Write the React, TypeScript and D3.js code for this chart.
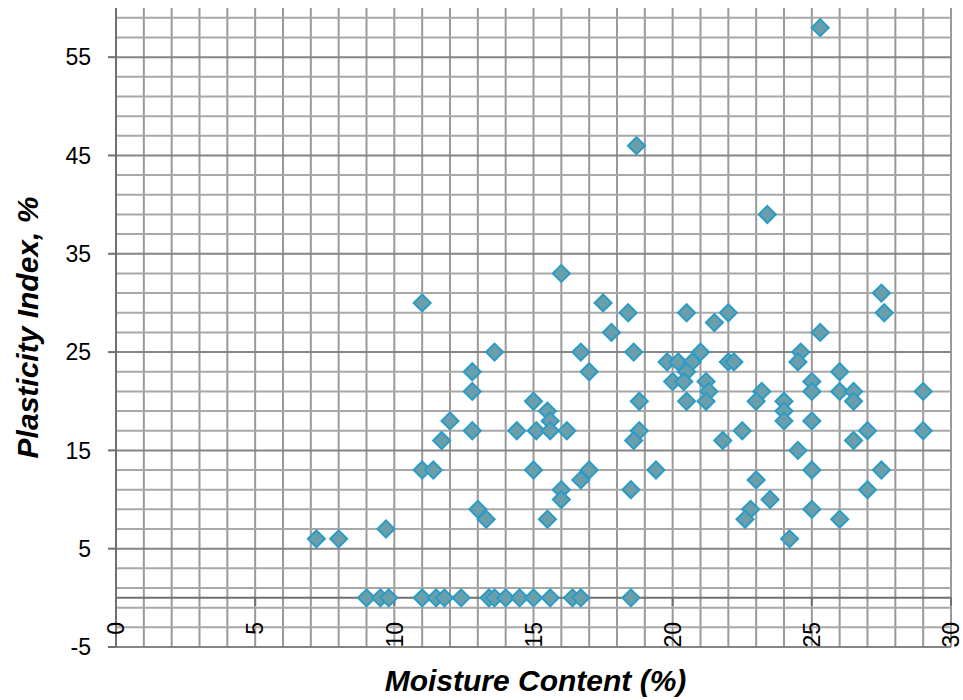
import React, { useEffect, useRef } from 'react';
import * as d3 from 'd3';

// moisture content (%) and plasticity index (%)
const moistureContent: number[] = [
  25.3, 18.7, 23.4, 16.0, 11.0, 17.5, 27.5, 18.4, 20.5, 22.0, 27.6, 21.5, 17.8, 25.3,
  13.6, 16.7, 18.6, 21.0, 24.6,
  19.8, 20.2, 20.7, 22.0, 22.2, 24.5,
  12.8, 17.0, 20.5, 26.0,
  20.0, 20.4, 21.2, 25.0,
  12.8, 21.3, 23.2, 25.0, 26.0, 26.5, 29.0,
  15.0, 18.8, 20.5, 21.2, 23.0, 24.0, 26.5,
  15.5, 24.0,
  12.0, 15.6, 24.0, 25.0,
  12.8, 14.4, 15.1, 15.6, 16.2, 18.8, 22.5, 27.0, 29.0,
  11.7, 18.6, 21.8, 26.5,
  24.5,
  11.0, 11.4, 15.0, 17.0, 19.4, 25.0, 27.5,
  16.7, 23.0,
  16.0, 18.5, 27.0,
  16.0, 23.5,
  13.0, 22.8, 25.0,
  13.3, 15.5, 22.6, 26.0,
  9.7,
  7.2, 8.0, 24.2,
  9.0, 9.5, 9.8, 11.0, 11.5, 11.8, 12.4, 13.4, 13.6, 14.0, 14.5, 15.0, 15.6, 16.4, 16.7, 18.5,
];

const plasticityIndex: number[] = [
  58, 46, 39, 33, 30, 30, 31, 29, 29, 29, 29, 28, 27, 27,
  25, 25, 25, 25, 25,
  24, 24, 24, 24, 24, 24,
  23, 23, 23, 23,
  22, 22, 22, 22,
  21, 21, 21, 21, 21, 21, 21,
  20, 20, 20, 20, 20, 20, 20,
  19, 19,
  18, 18, 18, 18,
  17, 17, 17, 17, 17, 17, 17, 17, 17,
  16, 16, 16, 16,
  15,
  13, 13, 13, 13, 13, 13, 13,
  12, 12,
  11, 11, 11,
  10, 10,
  9, 9, 9,
  8, 8, 8, 8,
  7,
  6, 6, 6,
  0, 0, 0, 0, 0, 0, 0, 0, 0, 0, 0, 0, 0, 0, 0, 0,
];

const xTicks = [0, 5, 10, 15, 20, 25, 30];
const yTicks = [-5, 5, 15, 25, 35, 45, 55];

const WIDTH = 963;
const HEIGHT = 700;
const FONT = 'Liberation Sans, Arial, sans-serif';

const App = () => {
  const ref = useRef<SVGSVGElement | null>(null);

  useEffect(() => {
    const svg = d3.select(ref.current);
    svg.selectAll('*').remove();

    const x = d3.scaleLinear().domain([0, 30]).range([116, 951]);
    const y = d3.scaleLinear().domain([-5, 60]).range([647, 8]);

    const [x0, x1] = x.range();
    const [yBottom, yTop] = y.range();

    // vertical grid, every 1 unit
    svg
      .append('g')
      .selectAll('line')
      .data(d3.range(1, 31))
      .enter()
      .append('line')
      .attr('x1', (d) => x(d))
      .attr('x2', (d) => x(d))
      .attr('y1', yTop)
      .attr('y2', yBottom)
      .attr('stroke', '#9a9a9a')
      .attr('stroke-width', 2);

    // minor horizontal grid, every 2 units from -5
    const minor = d3.range(-3, 60, 2).filter((v) => (v + 5) % 10 !== 0);
    svg
      .append('g')
      .selectAll('line')
      .data(minor)
      .enter()
      .append('line')
      .attr('x1', x0)
      .attr('x2', x1)
      .attr('y1', (d) => y(d))
      .attr('y2', (d) => y(d))
      .attr('stroke', '#a8a8a8')
      .attr('stroke-width', 2);

    // major horizontal grid
    svg
      .append('g')
      .selectAll('line')
      .data(yTicks)
      .enter()
      .append('line')
      .attr('x1', x0)
      .attr('x2', x1)
      .attr('y1', (d) => y(d))
      .attr('y2', (d) => y(d))
      .attr('stroke', '#858585')
      .attr('stroke-width', 2);

    // y axis line + ticks
    svg
      .append('line')
      .attr('x1', x0)
      .attr('x2', x0)
      .attr('y1', yTop)
      .attr('y2', yBottom)
      .attr('stroke', '#707070')
      .attr('stroke-width', 2);

    svg
      .append('g')
      .selectAll('line')
      .data(yTicks)
      .enter()
      .append('line')
      .attr('x1', x0 - 8)
      .attr('x2', x0)
      .attr('y1', (d) => y(d))
      .attr('y2', (d) => y(d))
      .attr('stroke', '#707070')
      .attr('stroke-width', 2);

    svg
      .append('g')
      .selectAll('text')
      .data(yTicks)
      .enter()
      .append('text')
      .text((d) => String(d))
      .attr('x', 91)
      .attr('y', (d) => y(d))
      .attr('dy', '0.36em')
      .attr('text-anchor', 'end')
      .attr('font-family', FONT)
      .attr('font-size', 23)
      .attr('fill', '#000');

    // x axis crosses at y = 0
    svg
      .append('line')
      .attr('x1', x0)
      .attr('x2', x1)
      .attr('y1', y(0))
      .attr('y2', y(0))
      .attr('stroke', '#707070')
      .attr('stroke-width', 2);

    svg
      .append('g')
      .selectAll('line')
      .data(xTicks)
      .enter()
      .append('line')
      .attr('x1', (d) => x(d))
      .attr('x2', (d) => x(d))
      .attr('y1', y(0))
      .attr('y2', y(0) + 8)
      .attr('stroke', '#707070')
      .attr('stroke-width', 2);

    svg
      .append('g')
      .selectAll('text')
      .data(xTicks)
      .enter()
      .append('text')
      .text((d) => String(d))
      .attr('transform', (d) => `translate(${x(d)},622) rotate(-90)`)
      .attr('dy', '0.36em')
      .attr('text-anchor', 'end')
      .attr('font-family', FONT)
      .attr('font-size', 23)
      .attr('fill', '#000');

    // points
    const diamond = d3.symbol().type(d3.symbolSquare).size(145);
    svg
      .append('g')
      .selectAll('path')
      .data(moistureContent.map((m, i) => [m, plasticityIndex[i]]))
      .enter()
      .append('path')
      .attr('d', diamond() as string)
      .attr('transform', (d) => `translate(${x(d[0])},${y(d[1])}) rotate(45)`)
      .attr('fill', '#6b9eab')
      .attr('stroke', '#2a9cc6')
      .attr('stroke-width', 2);

    // axis titles
    svg
      .append('text')
      .text('Moisture Content (%)')
      .attr('x', (x0 + x1) / 2 + 2)
      .attr('y', 691)
      .attr('text-anchor', 'middle')
      .attr('font-family', FONT)
      .attr('font-size', 30)
      .attr('font-weight', 'bold')
      .attr('font-style', 'italic')
      .attr('fill', '#000');

    svg
      .append('text')
      .text('Plasticity Index, %')
      .attr('transform', `translate(38,${(yTop + yBottom) / 2}) rotate(-90)`)
      .attr('text-anchor', 'middle')
      .attr('font-family', FONT)
      .attr('font-size', 30)
      .attr('font-weight', 'bold')
      .attr('font-style', 'italic')
      .attr('fill', '#000');
  }, []);

  return (
    <svg
      ref={ref}
      width={WIDTH}
      height={HEIGHT}
      style={{ position: 'absolute', left: 0, top: 0, background: '#fff' }}
    />
  );
};

export default App;
